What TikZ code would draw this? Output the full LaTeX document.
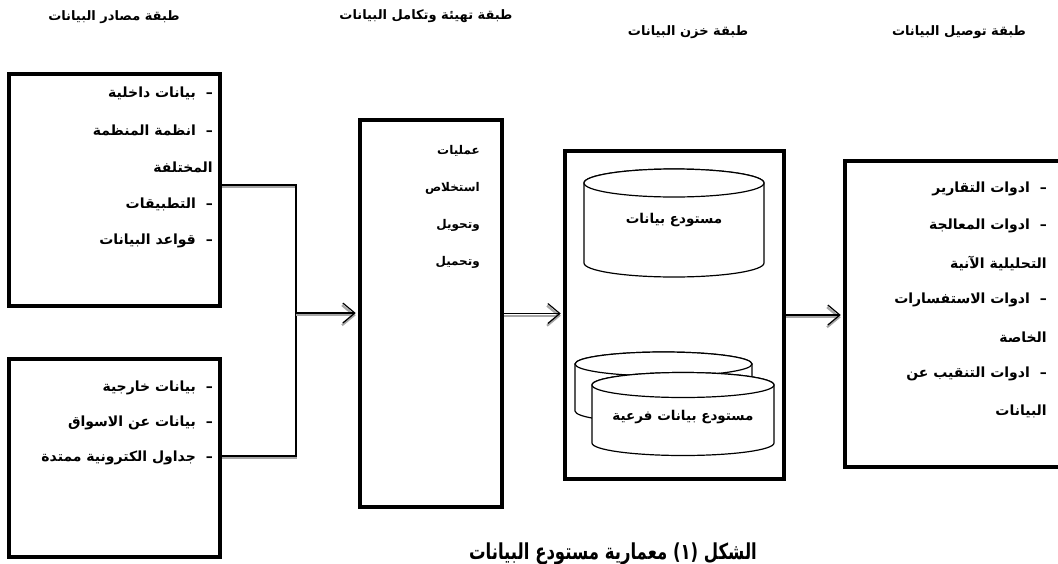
\documentclass[tikz,border=0pt]{standalone}
\usepackage{fontspec}
\usetikzlibrary{arrows.meta}
\TeXXeTstate=1
\newfontfamily\arabicfont[Script=Arabic]{DejaVu Sans}
\newcommand\RL[1]{\beginR #1\endR}
\newcommand\dsh{–\hspace{5pt} }
\begin{document}
\begin{tikzpicture}[x=1pt,y=-1pt,
  box/.style={draw, line width=3.5pt, fill=white, inner sep=0pt},
  lbl/.style={font=\arabicfont\bfseries\fontsize{14}{16}\selectfont, inner sep=0pt, anchor=east},
  etltxt/.style={font=\arabicfont\bfseries\fontsize{12}{14}\selectfont, inner sep=0pt, anchor=east},
  hdr/.style={font=\arabicfont\bfseries\fontsize{13}{15}\selectfont, inner sep=0pt},
  cyltxt/.style={font=\arabicfont\bfseries\fontsize{13.5}{15}\selectfont, inner sep=0pt},
  conn/.style={line width=1.2pt, preaction={draw=black!35, line width=2.2pt, transform canvas={yshift=-2.2pt}}},
  arr/.style={-{Straight Barb[length=12pt,width=20pt]}, shorten >=2.5pt},
  cyl/.style={draw, line width=1.2pt, fill=white}
]
\useasboundingbox (0,0) rectangle (1058,563);
\clip (0,0) rectangle (1058,563);

% headers
\node[hdr] (h1) at (114,17) {\RL{طبقة مصادر البيانات}};
\node[hdr] (h2) at (426,16) {\RL{طبقة تهيئة وتكامل البيانات}};
\node[hdr] (h3) at (688,32) {\RL{طبقة خزن البيانات}};
\node[hdr] (h4) at (959,32) {\RL{طبقة توصيل البيانات}};

% boxes
\node[box, minimum width=211pt, minimum height=232pt] (src1) at (114.5,190) {};
\node[box, minimum width=211pt, minimum height=198pt] (src2) at (114.5,458) {};
\node[box, minimum width=142pt, minimum height=387pt] (etl) at (431,313.5) {};
\node[box, minimum width=219pt, minimum height=328pt] (wh) at (674.5,315) {};
\node[box, minimum width=217pt, minimum height=306pt] (del) at (953.5,314) {};

% source texts
\node[lbl] (s1a) at (213,93) {\RL{\dsh بيانات داخلية}};
\node[lbl] (s1b) at (213,130) {\RL{\dsh انظمة المنظمة}};
\node[lbl] (s1c) at (213,167) {\RL{المختلفة}};
\node[lbl] (s1d) at (213,204) {\RL{\dsh التطبيقات}};
\node[lbl] (s1e) at (213,241) {\RL{\dsh قواعد البيانات}};

\node[lbl] (s2a) at (213,388) {\RL{\dsh بيانات خارجية}};
\node[lbl] (s2b) at (213,423) {\RL{\dsh بيانات عن الاسواق}};
\node[lbl] (s2c) at (213,458) {\RL{\dsh جداول الكترونية ممتدة}};

% ETL texts
\node[etltxt] (e1) at (480,151) {\RL{عمليات}};
\node[etltxt] (e2) at (480,188) {\RL{استخلاص}};
\node[etltxt] (e3) at (480,225) {\RL{وتحويل}};
\node[etltxt] (e4) at (480,262) {\RL{وتحميل}};

% delivery texts
\node[lbl] (d1) at (1047,189) {\RL{\dsh ادوات التقارير}};
\node[lbl] (d2) at (1047,226) {\RL{\dsh ادوات المعالجة}};
\node[lbl] (d3) at (1047,263) {\RL{التحليلية الآنية}};
\node[lbl] (d4) at (1047,300) {\RL{\dsh ادوات الاستفسارات}};
\node[lbl] (d5) at (1047,337) {\RL{الخاصة}};
\node[lbl] (d6) at (1047,374) {\RL{\dsh ادوات التنقيب عن}};
\node[lbl] (d7) at (1047,411) {\RL{البيانات}};

% cylinders
\filldraw[cyl] (584,183) -- (584,263) arc[start angle=180,end angle=0,x radius=90,y radius=14]
  -- (764,183) arc[start angle=0,end angle=-180,x radius=90,y radius=14] -- cycle;
\draw[cyl] (674,183) ellipse[x radius=90,y radius=14];
\node[cyltxt] (c1) at (674,220) {\RL{مستودع بيانات}};

\filldraw[cyl] (575,364) -- (575,411) arc[start angle=180,end angle=0,x radius=88.5,y radius=12]
  -- (752,364) arc[start angle=0,end angle=-180,x radius=88.5,y radius=12] -- cycle;
\draw[cyl] (663.5,364) ellipse[x radius=88.5,y radius=12];

\filldraw[cyl] (592,385) -- (592,443) arc[start angle=180,end angle=0,x radius=91,y radius=12.5]
  -- (774,385) arc[start angle=0,end angle=-180,x radius=91,y radius=12.5] -- cycle;
\draw[cyl] (683,385) ellipse[x radius=91,y radius=12.5];
\node[cyltxt] (c2) at (683,417) {\RL{مستودع بيانات فرعية}};

% connectors
\coordinate (j) at (296,313);
\draw[conn] ([yshift=5pt]src1.east) -| (j) |- ([yshift=2pt]src2.east);
\draw[conn, arr] (j) -- (j -| etl.west);
\draw[conn, arr] (etl.east) -- (etl.east -| wh.west);
\draw[conn, arr] (wh.east) -- (wh.east -| del.west);

% caption (cut off at the bottom edge, as in the reference)
\node[font=\arabicfont\bfseries\fontsize{22}{26}\selectfont, inner sep=0pt, anchor=base] (cap) at (613,559) {\scalebox{0.75}[1]{\RL{الشكل (١) معمارية مستودع البيانات}}};
\end{tikzpicture}
\end{document}
